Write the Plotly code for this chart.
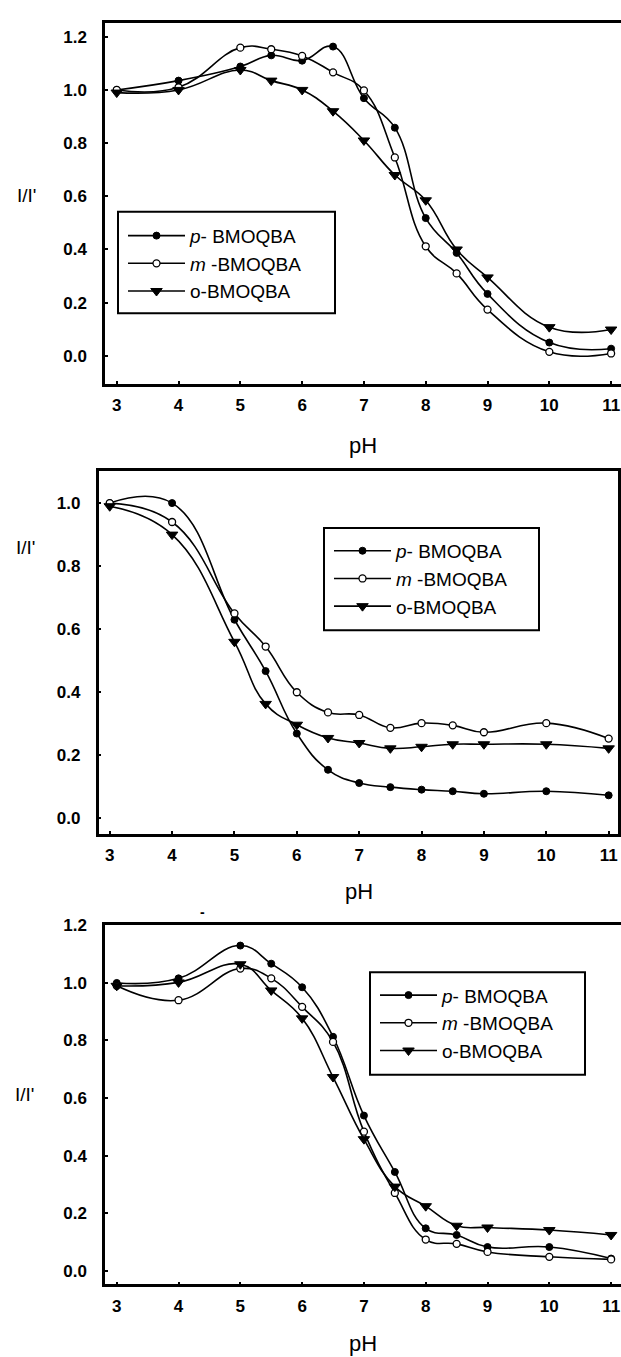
import plotly.graph_objects as go

# ---------------- data ----------------
ph = [3, 4, 5, 5.5, 6, 6.5, 7, 7.5, 8, 8.5, 9, 10, 11]

# panel 1
p1_p = [1.00, 1.035, 1.088, 1.13, 1.11, 1.163, 0.969, 0.858, 0.518, 0.387, 0.233, 0.05, 0.027]
p1_m = [1.00, 1.01, 1.159, 1.153, 1.128, 1.066, 0.998, 0.746, 0.412, 0.31, 0.174, 0.015, 0.009]
p1_o = [0.99, 1.00, 1.075, 1.035, 1.00, 0.92, 0.81, 0.68, 0.585, 0.40, 0.295, 0.108, 0.099]

# panel 2
p2_p = [1.00, 1.00, 0.63, 0.467, 0.269, 0.154, 0.112, 0.099, 0.091, 0.086, 0.078, 0.086, 0.073]
p2_m = [1.00, 0.94, 0.65, 0.545, 0.40, 0.336, 0.328, 0.287, 0.302, 0.295, 0.273, 0.302, 0.253]
p2_o = [0.99, 0.90, 0.56, 0.363, 0.297, 0.255, 0.239, 0.222, 0.227, 0.235, 0.235, 0.235, 0.222]

# panel 3
p3_p = [1.00, 1.016, 1.13, 1.067, 0.985, 0.813, 0.539, 0.343, 0.147, 0.124, 0.082, 0.082, 0.042]
p3_m = [0.99, 0.94, 1.05, 1.016, 0.917, 0.795, 0.483, 0.27, 0.108, 0.093, 0.065, 0.048, 0.039]
p3_o = [0.99, 1.002, 1.065, 0.974, 0.877, 0.673, 0.457, 0.292, 0.224, 0.156, 0.15, 0.141, 0.124]

names = ["<i>p</i>- BMOQBA", "<i>m</i> -BMOQBA", "o-BMOQBA"]
x_ticks = [3, 4, 5, 6, 7, 8, 9, 10, 11]
y_ticks_12 = [0.0, 0.2, 0.4, 0.6, 0.8, 1.0, 1.2]
y_ticks_10 = [0.0, 0.2, 0.4, 0.6, 0.8, 1.0]

panels = [
    (p1_p, p1_m, p1_o),
    (p2_p, p2_m, p2_o),
    (p3_p, p3_m, p3_o),
]

W, H = 621, 1357
FONT = "Liberation Sans, Arial, sans-serif"


def fx(X):
    return min(1.0, X / W)


def fy(Y):
    return 1 - Y / H


fig = go.Figure()

marker_styles = [
    dict(symbol="circle", size=7, color="black", line=dict(color="black", width=1)),
    dict(symbol="circle", size=7, color="white", line=dict(color="black", width=1.3)),
    dict(symbol="triangle-down", size=10, color="black", line=dict(color="black", width=1)),
]

for i, series in enumerate(panels):
    ax = "" if i == 0 else str(i + 1)
    leg = "legend" if i == 0 else f"legend{i + 1}"
    for j, vals in enumerate(series):
        fig.add_trace(go.Scatter(
            x=ph, y=vals, name=names[j],
            mode="lines+markers",
            line=dict(color="black", width=1.6, shape="spline", smoothing=1.25),
            marker=marker_styles[j],
            xaxis="x" + ax, yaxis="y" + ax,
            legend=leg,
        ))

doms = [
    dict(x=[fx(105), 1.0], y=[fy(378), fy(15)], xr=[2.81, 11.16], yr=[-0.105, 1.252], yt=y_ticks_12, mirror_y=False),
    dict(x=[fx(98.5), fx(618)], y=[fy(831), fy(466)], xr=[2.82, 11.15], yr=[-0.05, 1.101], yt=y_ticks_10, mirror_y=True),
    dict(x=[fx(105), 1.0], y=[fy(1284), fy(922)], xr=[2.81, 11.16], yr=[-0.048, 1.203], yt=y_ticks_12, mirror_y=False),
]

tickfont = dict(family=FONT, size=17, color="black", weight="bold")

for i, d in enumerate(doms):
    ax = "" if i == 0 else str(i + 1)
    fig.layout["xaxis" + ax] = dict(
        domain=d["x"], range=d["xr"], anchor="y" + ax,
        tickvals=x_ticks, ticktext=[str(t) for t in x_ticks],
        ticks="inside", ticklen=3, tickwidth=2, tickcolor="black",
        showline=True, linecolor="black", linewidth=2.5, mirror=True,
        showgrid=False, zeroline=False, tickfont=tickfont,
        ticklabelstandoff=4,
    )
    fig.layout["yaxis" + ax] = dict(
        domain=d["y"], range=d["yr"], anchor="x" + ax,
        tickvals=d["yt"], ticktext=[f"{t:.1f}" for t in d["yt"]],
        ticks="inside", ticklen=3, tickwidth=2, tickcolor="black",
        showline=True, linecolor="black", linewidth=2.5,
        mirror=d["mirror_y"],
        showgrid=False, zeroline=False, tickfont=tickfont,
        ticklabelstandoff=12,
    )

# legend frames (left, top, right, bottom) and first-entry line position, in page pixels
leg_boxes = [(118, 205, 335, 307, 229), (324, 523, 539, 626, 546), (370, 970, 585, 1073, 993)]
legfont = dict(family=FONT, size=19, color="black")
shapes = []
for i, (l, t, r, b, first) in enumerate(leg_boxes):
    key = "legend" if i == 0 else f"legend{i + 1}"
    fig.layout[key] = dict(
        x=fx(l + 5), y=fy(first - 19), xanchor="left", yanchor="top",
        bgcolor="rgba(0,0,0,0)", borderwidth=0,
        font=legfont, tracegroupgap=0, itemwidth=57,
    )
    shapes.append(dict(type="rect", xref="paper", yref="paper",
                       x0=fx(l), x1=fx(r), y0=fy(b), y1=fy(t),
                       line=dict(color="black", width=2), fillcolor="white",
                       layer="above"))

annotations = []
ylab_pos = [(26, 189), (25, 543), (24, 1093)]
for (lx, ly) in ylab_pos:
    annotations.append(dict(text="I/I'", x=fx(lx), y=fy(ly), xref="paper", yref="paper",
                            showarrow=False, xanchor="center", yanchor="middle",
                            font=dict(family=FONT, size=19, color="black")))
xlab_pos = [(363, 440), (359, 889), (363, 1343)]
for (lx, ly) in xlab_pos:
    annotations.append(dict(text="pH", x=fx(lx), y=fy(ly), xref="paper", yref="paper",
                            showarrow=False, xanchor="center", yanchor="middle",
                            font=dict(family=FONT, size=22, color="black")))
# small stray dash visible above the third panel
annotations.append(dict(text="-", x=fx(202), y=fy(909), xref="paper", yref="paper",
                        showarrow=False, xanchor="center", yanchor="middle",
                        font=dict(family=FONT, size=14, color="black", weight="bold")))

fig.update_layout(
    width=W, height=H,
    margin=dict(l=0, r=0, t=0, b=0),
    paper_bgcolor="white", plot_bgcolor="white",
    annotations=annotations, shapes=shapes,
    showlegend=True,
)

fig.write_html(
    "out.html",
    config={"displayModeBar": False},
    post_script=(
        "document.documentElement.style.margin='0';"
        "document.documentElement.style.overflow='hidden';"
        "document.body.style.margin='0';"
        "document.body.style.overflow='hidden';"
    ),
)
